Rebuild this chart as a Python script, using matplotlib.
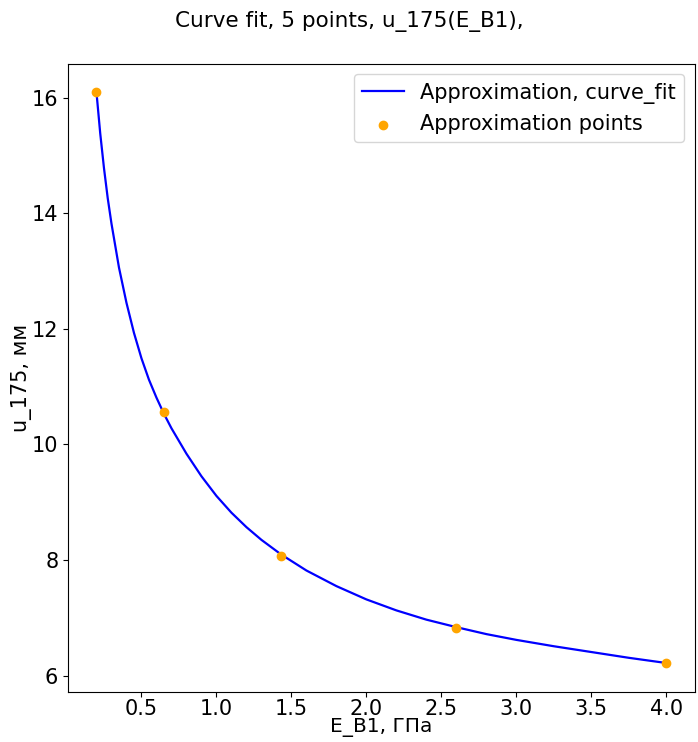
import matplotlib
matplotlib.use("Agg")
import matplotlib.pyplot as plt

# =========================
# Data
# =========================
# approximation points
E_points = [0.2, 0.65, 1.43, 2.6, 4.0]
u_points = [16.09, 10.56, 8.075, 6.83, 6.22]

# fitted curve
E_curve = [0.2, 0.225, 0.25, 0.275, 0.3, 0.35, 0.4, 0.45, 0.5, 0.55,
           0.6, 0.65, 0.7, 0.8, 0.9, 1.0, 1.1, 1.2, 1.3, 1.43,
           1.6, 1.8, 2.0, 2.2, 2.4, 2.6, 2.8, 3.0, 3.25, 3.5, 3.75, 4.0]
u_curve = [16.09, 15.38, 14.78, 14.26, 13.82, 13.06, 12.45, 11.93, 11.49, 11.12,
           10.81, 10.53, 10.28, 9.84, 9.45, 9.11, 8.82, 8.57, 8.35, 8.10,
           7.82, 7.55, 7.32, 7.13, 6.97, 6.84, 6.72, 6.62, 6.51, 6.41, 6.31, 6.22]

plt.rcParams["font.size"] = 15

fig = plt.figure(figsize=(6.98, 7.42), dpi=100)
ax = fig.add_axes([0.0974, 0.068, 0.898, 0.846])

ax.plot(E_curve, u_curve, color="blue", linewidth=1.6,
        label="Approximation, curve_fit")
ax.scatter(E_points, u_points, color="orange", zorder=3,
           label="Approximation points")

ax.set_xlabel("E_B1, ГПа", fontsize=14.5, labelpad=-1)
ax.set_ylabel("u_175, мм", labelpad=0)
ax.tick_params(axis="x", pad=2)
ax.set_xticks([0.5, 1.0, 1.5, 2.0, 2.5, 3.0, 3.5, 4.0])
ax.set_yticks([6, 8, 10, 12, 14, 16])
ax.legend(loc="upper right")

fig.suptitle("Curve fit, 5 points, u_175(E_B1),", y=0.985, fontsize=15.5)

plt.savefig("out.png", dpi=100)
plt.close()
